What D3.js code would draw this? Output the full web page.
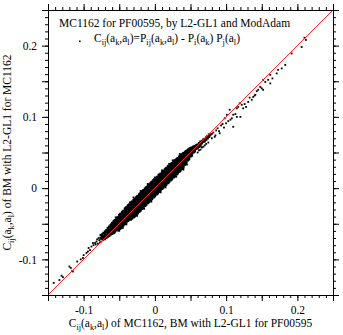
<!DOCTYPE html>
<html><head><meta charset="utf-8">
<script src="https://cdn.jsdelivr.net/npm/d3@7"></script>
<style>body{margin:0;background:#fff}svg{display:block}text{font-family:"Liberation Serif","Times New Roman",serif;fill:#000}</style>
</head><body><svg id="c" width="343" height="335"></svg>
<script>
// values in thousandths
const xDomain = [-0.15, 0.25];
const yDomain = [-0.15, 0.25];
const tickLabels = [-0.1, 0, 0.1, 0.2];
const titleText = "MC1162 for PF00595, by L2-GL1 and ModAdam";
const legendText = "C_{ij}(a_{k},a_{l})=P_{ij}(a_{k},a_{l}) - P_{i}(a_{k}) P_{j}(a_{l})";
const xLabel = "C_{ij}(a_{k},a_{l}) of MC1162, BM with L2-GL1 for PF00595";
const yLabel = "C_{ij}(a_{k},a_{l}) of BM with L2-GL1 for MC1162";

// dense core: [x, [y values]]
const coreColumns = [
[-76,[-66,-70]],[-74,[-65,-68,-71]],[-72,[-63,-67,-70]],[-70,[-61,-64,-68,-70]],
[-68,[-59,-62,-66,-69]],[-66,[-56,-60,-63,-66,-68]],[-64,[-54,-58,-61,-64,-67]],
[-62,[-52,-55,-59,-62,-65]],[-60,[-49,-53,-56,-59,-62,-64]],[-58,[-47,-51,-54,-57,-61,-63]],
[-56,[-45,-48,-52,-55,-58,-61]],[-54,[-43,-46,-50,-53,-56,-59]],[-52,[-41,-44,-47,-51,-54,-57,-59]],
[-50,[-38,-42,-45,-48,-52,-55,-57]],[-48,[-36,-40,-43,-46,-50,-53,-56]],[-46,[-34,-37,-41,-44,-47,-51,-54]],
[-44,[-32,-35,-39,-42,-45,-49,-52]],[-42,[-29,-33,-37,-40,-43,-47,-50]],[-40,[-27,-31,-34,-38,-41,-45,-48]],
[-38,[-25,-29,-32,-36,-39,-43,-46]],[-36,[-23,-27,-30,-34,-37,-41,-44]],[-34,[-21,-24,-28,-32,-35,-39,-42,-44]],
[-32,[-19,-22,-26,-30,-33,-37,-40,-42]],[-30,[-17,-20,-24,-28,-31,-35,-38,-41]],[-28,[-15,-18,-22,-26,-29,-33,-36,-39]],
[-26,[-13,-16,-20,-24,-27,-31,-34,-37]],[-24,[-11,-14,-18,-22,-25,-29,-32,-35]],[-22,[-9,-12,-16,-20,-23,-27,-30,-33]],
[-20,[-7,-10,-14,-18,-21,-25,-28,-31]],[-18,[-5,-8,-12,-16,-19,-23,-26,-29]],[-16,[-3,-6,-10,-14,-17,-21,-24,-27]],
[-14,[-1,-4,-8,-12,-15,-19,-22,-25]],[-12,[1,-2,-6,-10,-13,-17,-20,-23]],[-10,[3,0,-4,-8,-11,-15,-18,-21]],
[-8,[5,2,-2,-6,-9,-13,-16,-19]],[-6,[7,4,0,-4,-7,-11,-14,-17]],[-4,[9,6,2,-2,-5,-9,-12,-15]],
[-2,[11,8,4,0,-3,-7,-10,-13]],[0,[12,9,6,2,-1,-5,-8,-11]],[2,[14,11,8,4,1,-3,-6,-9]],
[4,[16,13,10,6,3,-1,-4,-7]],[6,[18,15,12,8,5,1,-2,-5]],[8,[20,17,14,10,7,3,0,-3]],
[10,[22,19,16,12,9,5,2,-1]],[12,[24,21,17,14,11,7,4,1]],[14,[26,23,19,16,13,9,6,3]],
[16,[28,25,21,18,15,11,8,5]],[18,[30,27,23,20,17,13,10,7]],[20,[31,28,25,22,19,15,12,9]],
[22,[33,30,27,24,21,17,14,11]],[24,[35,32,29,26,23,19,16,13]],[26,[37,34,31,28,25,21,18,15]],
[28,[39,36,33,30,27,23,20,17]],[30,[40,37,34,31,28,25,22,19]],[32,[42,39,36,33,30,27,24,21]],
[34,[44,41,38,35,32,29,26,23]],[36,[46,43,40,37,34,31,28,25]],[38,[47,44,41,38,35,32,29,27]],
[40,[49,46,43,40,37,34,31,29]],[42,[50,47,44,41,38,35,33]],[44,[52,49,46,43,40,37,35]],
[46,[53,50,47,44,41,39]],[48,[55,52,49,46,43,41]],[50,[56,53,50,47,45]],[52,[57,54,51,49,46]],
[54,[58,55,53,50]],[56,[59,57,54,52]],[58,[60,58,55]],[60,[61,59,56]],[62,[63,60,58]],
[64,[65,62,59]],[66,[66,63]],[68,[68,65]],[70,[69,66]],[72,[71,68]],[74,[73,70]],[76,[75,72]],
[-61,[-51,-54,-57,-61,-64]],[-57,[-46,-49,-53,-56,-59,-62]],[-53,[-42,-45,-49,-52,-55,-58]],
[-49,[-37,-41,-44,-47,-51,-54,-57]],[-45,[-33,-36,-40,-43,-46,-50,-53]],[-41,[-28,-32,-36,-39,-42,-46,-49]],
[-37,[-24,-28,-31,-35,-38,-42,-45]],[-33,[-20,-23,-27,-31,-34,-38,-41,-43]],[-29,[-16,-19,-23,-27,-30,-34,-37,-40]],
[-25,[-12,-15,-19,-23,-26,-30,-33,-36]],[-21,[-8,-11,-15,-19,-22,-26,-29,-32]],[-17,[-4,-7,-11,-15,-18,-22,-25,-28]],
[-13,[0,-3,-7,-11,-14,-18,-21,-24]],[-9,[4,1,-3,-7,-10,-14,-17,-20]],[-5,[8,5,1,-3,-6,-10,-13,-16]],
[-1,[12,9,5,1,-2,-6,-9,-12]],[3,[15,12,9,5,2,-2,-5,-8]],[7,[19,16,13,9,6,2,-1,-4]],
[11,[23,20,17,13,10,6,3,0]],[15,[27,24,20,17,14,10,7,4]],[19,[31,28,24,21,18,14,11,8]],
[23,[34,31,28,25,22,18,15,12]],[27,[38,35,32,29,26,22,19,16]],[31,[41,38,35,32,29,26,23,20]],
[35,[45,42,39,36,33,30,27,24]],[39,[48,45,42,39,36,33,30,28]],[43,[51,48,45,42,39,36,34]],
[47,[54,51,48,45,42,40]],[51,[56,53,50,48,45]],[55,[58,56,53,51]]
];
// scattered points on the edges of the core [x, y]
const coreEdge = [
[-30,-13],[-20,-4],[-10,6],[0,15],[10,25],[20,34],[-40,-51],[-25,-39],[-5,-19],[15,1],[30,16],
[45,33],[-55,-41],[-50,-60],[5,19],[25,39],[35,48],[-15,-29],[-35,-20],[40,26],[-45,-56],[8,-6]
];
// sparse upper tail [x, y]
const upperTail = [
[212,208],[210,211],[206,198],[192,189],[183,173],[173,166],[171,161],[162,159],[159,152],[162,147],
[152,152],[155,149],[148,142],[150,140],[145,138],[152,138],[138,128],[136,124],[131,121],[119,119],
[122,117],[117,114],[115,112],[105,110],[101,103],[110,103],[120,100],[110,86],[98,98],[100,91],
[106,96],[91,77],[84,72],[95,90],[88,84],[90,80],[86,81],[82,78],[80,70],[78,74],[77,76],[80,76],
[85,74],[75,64],[70,60],[64,54],[60,50],[62,53],[66,57],[72,62],[68,58],[93,88],[97,85],[103,94],
[108,98],[113,104],[126,118],[128,114],[141,131],[143,136],[165,154],[178,168],[140,130],[133,127],
[124,112],[115,100]
];
// sparse lower tail [x, y]
const lowerTail = [
[-142,-133],[-134,-129],[-131,-123],[-129,-125],[-120,-110],[-116,-116],[-115,-117],[-104,-100],
[-101,-98],[-96,-91],[-94,-89],[-91,-87],[-87,-77],[-84,-77],[-82,-75],[-80,-78],[-78,-73],[-77,-76],
[-75,-75],[-73,-73],[-71,-67],[-70,-72],[-68,-70],[-118,-112],[-109,-103],[-100,-94],[-93,-84],
[-89,-82],[-86,-80],[-83,-79],[-81,-72],[-79,-70],[-76,-71],[-74,-65]
];

const svg = d3.select("#c");
const L = 48, R = 333, T = 10, B = 295;
const x = d3.scaleLinear(xDomain, [L, R]);
const y = d3.scaleLinear(yDomain, [B, T]);
const FS = 11.5;

function rich(sel, str, fs) {
  const parts = str.split(/_\{([^}]*)\}/);
  let shifted = false;
  parts.forEach((p, i) => {
    if (p === "") { return; }
    const t = sel.append("tspan").text(p);
    if (i % 2 === 1) {
      t.attr("font-size", fs * 0.72).attr("dy", shifted ? 0 : 3.2);
      shifted = true;
    } else {
      if (shifted) t.attr("dy", -3.2);
      shifted = false;
    }
  });
}

const points = [];
coreColumns.forEach(([cx, ys]) => ys.forEach(cy => points.push({v: [cx / 1000, cy / 1000], s: 2.4})));
[coreEdge, upperTail, lowerTail].forEach(arr => arr.forEach(([a, b]) => points.push({v: [a / 1000, b / 1000], s: 1.8})));

// points
svg.append("g").selectAll("rect").data(points).join("rect")
  .attr("x", d => x(d.v[0]) - d.s / 2).attr("y", d => y(d.v[1]) - d.s / 2)
  .attr("width", d => d.s).attr("height", d => d.s).attr("fill", "#000");

// diagonal
svg.append("line")
  .attr("x1", x(xDomain[0])).attr("y1", y(yDomain[0]))
  .attr("x2", x(xDomain[1])).attr("y2", y(yDomain[1]))
  .attr("stroke", "#ff2020").attr("stroke-width", 1);

const minor = d3.range(-15, 26, 1).map(v => v / 100);
const major = d3.range(-15, 26, 5).map(v => v / 100);
const fmt = d => tickLabels.some(t => Math.abs(t - d) < 1e-9) ? (Math.abs(d) < 1e-9 ? "0" : d.toFixed(1)) : "";

function styleAxis(g) {
  g.attr("font-family", null);
  g.select(".domain").attr("stroke", "#000");
  g.selectAll(".tick line").attr("stroke", "#000");
  g.selectAll("text").attr("font-size", FS).attr("fill", "#000");
}
// bottom
svg.append("g").attr("transform", `translate(0,${B})`)
  .call(d3.axisBottom(x).tickValues(minor).tickSize(3).tickFormat("").tickSizeOuter(0)).call(styleAxis);
svg.append("g").attr("transform", `translate(0,${B})`)
  .call(d3.axisBottom(x).tickValues(major).tickSize(6).tickPadding(5).tickFormat(fmt).tickSizeOuter(0)).call(styleAxis);
// top
svg.append("g").attr("transform", `translate(0,${T})`)
  .call(d3.axisTop(x).tickValues(minor).tickSize(3).tickFormat("").tickSizeOuter(0)).call(styleAxis);
svg.append("g").attr("transform", `translate(0,${T})`)
  .call(d3.axisTop(x).tickValues(major).tickSize(6).tickFormat("").tickSizeOuter(0)).call(styleAxis);
// left
svg.append("g").attr("transform", `translate(${L},0)`)
  .call(d3.axisLeft(y).tickValues(minor).tickSize(3).tickFormat("").tickSizeOuter(0)).call(styleAxis);
svg.append("g").attr("transform", `translate(${L},0)`)
  .call(d3.axisLeft(y).tickValues(major).tickSize(6).tickPadding(5).tickFormat(fmt).tickSizeOuter(0)).call(styleAxis);
// right
svg.append("g").attr("transform", `translate(${R},0)`)
  .call(d3.axisRight(y).tickValues(minor).tickSize(3).tickFormat("").tickSizeOuter(0)).call(styleAxis);
svg.append("g").attr("transform", `translate(${R},0)`)
  .call(d3.axisRight(y).tickValues(major).tickSize(6).tickFormat("").tickSizeOuter(0)).call(styleAxis);

// title & legend
svg.append("text").attr("x", 59).attr("y", 27).attr("font-size", FS).text(titleText);
svg.append("rect").attr("x", 79).attr("y", 40.5).attr("width", 1.6).attr("height", 1.6).attr("fill", "#000");
rich(svg.append("text").attr("x", 94).attr("y", 42).attr("font-size", FS), legendText, FS);

// axis labels
rich(svg.append("text").attr("x", (L + R) / 2).attr("y", 327).attr("text-anchor", "middle").attr("font-size", FS), xLabel, FS);
rich(svg.append("text").attr("transform", `translate(11,${(T + B) / 2}) rotate(-90)`).attr("text-anchor", "middle").attr("font-size", FS), yLabel, FS);
</script></body></html>
